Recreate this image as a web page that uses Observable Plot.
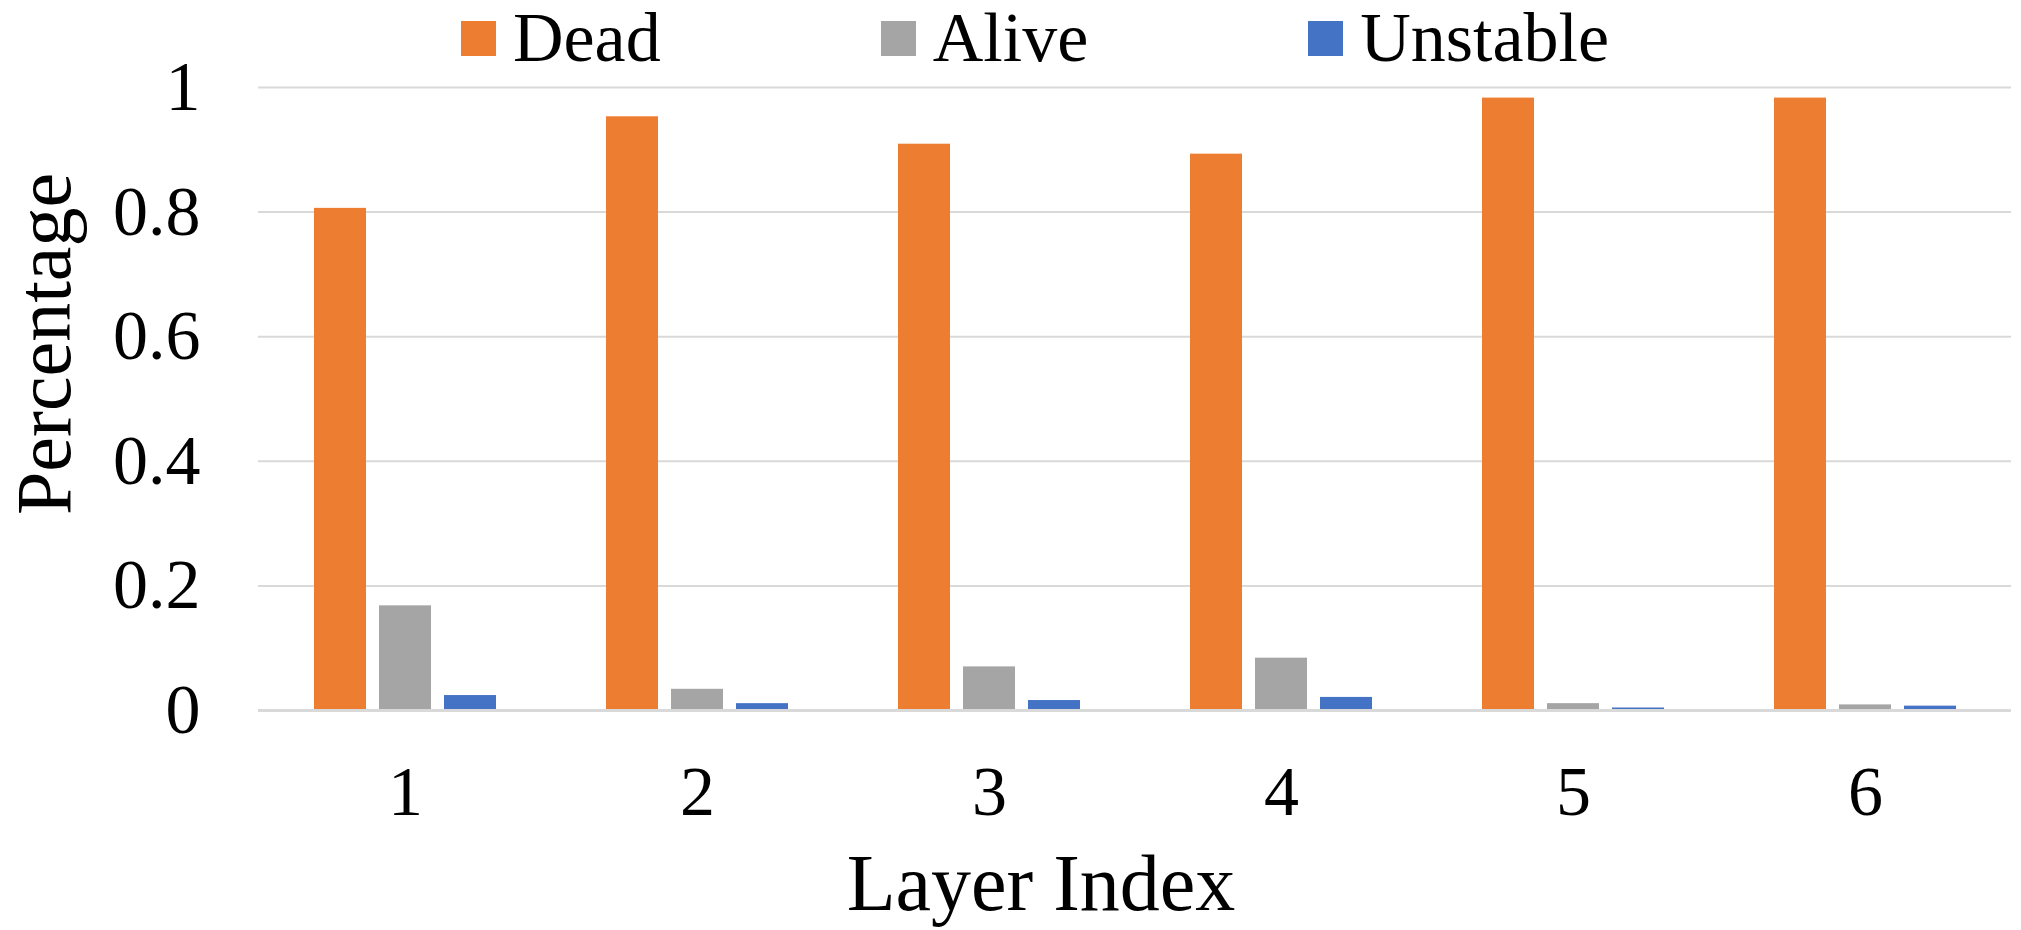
<!DOCTYPE html>
<html>
<head>
<meta charset="utf-8">
<script src="https://cdn.jsdelivr.net/npm/d3@7"></script>
<script src="https://cdn.jsdelivr.net/npm/@observablehq/plot@0.6"></script>
<style>
  html, body { margin: 0; padding: 0; background: #fff; }
  #wrap { position: relative; width: 2021px; height: 930px; font-family: "Liberation Serif", "Times New Roman", serif; }
  #legend { position: absolute; top: 0; left: 461px; height: 76px; display: flex; align-items: center; font-size: 70px; line-height: 1; color: #000; }
  .item { display: flex; align-items: center; margin-right: 220px; }
  .item:last-child { margin-right: 0; }
  .sw { width: 35px; height: 35px; margin-right: 17px; }
</style>
</head>
<body>
<div id="wrap">
  <div id="chart"></div>
  <div id="legend"></div>
</div>
<script>
const layers = ["1", "2", "3", "4", "5", "6"];
const series = ["Dead", "Alive", "Unstable"];
const colors = ["#ED7D31", "#A5A5A5", "#4472C4"];
const dead = [0.806, 0.953, 0.909, 0.893, 0.983, 0.983];
const alive = [0.168, 0.034, 0.070, 0.084, 0.011, 0.009];
const unstable = [0.024, 0.011, 0.016, 0.021, 0.004, 0.007];
const yTicks = [0, 0.2, 0.4, 0.6, 0.8, 1];
const xTitle = "Layer Index";
const yTitle = "Percentage";

const valuesBySeries = [dead, alive, unstable];
const rows = series.map((s, si) => layers.map((l, i) => ({layer: l, series: s, value: valuesBySeries[si][i]})));

const offsets = [-65, 0, 65];
const barMarks = rows.map((data, si) => Plot.barY(data, {
  x: "layer", y: "value", fill: colors[si],
  dx: offsets[si], insetLeft: 120, insetRight: 120
}));

const chart = Plot.plot({
  width: 2021,
  height: 930,
  marginLeft: 258,
  marginRight: 10,
  marginTop: 87,
  marginBottom: 220,
  style: {fontFamily: '"Liberation Serif", "Times New Roman", serif', color: "#000", background: "#fff"},
  x: {type: "band", domain: layers, padding: 0},
  y: {domain: [0, 1]},
  marks: [
    Plot.gridY({ticks: yTicks, stroke: "#d9d9d9", strokeOpacity: 1, strokeWidth: 2}),
    ...barMarks,
    Plot.ruleY([0], {stroke: "#d9d9d9", strokeWidth: 3}),
    Plot.axisY({ticks: yTicks, tickSize: 0, tickPadding: 58, fontSize: 70, label: null, tickFormat: d => String(d)}),
    Plot.axisX({tickSize: 0, tickPadding: 55, fontSize: 70, label: null}),
    Plot.text([xTitle], {text: d => d, frameAnchor: "bottom", dx: -94, dy: 174, fontSize: 80, lineAnchor: "middle", textAnchor: "middle"}),
    Plot.text([yTitle], {text: d => d, frameAnchor: "left", rotate: -90, dx: -213, dy: -55, fontSize: 78, lineAnchor: "middle", textAnchor: "middle"})
  ]
});
document.getElementById("chart").appendChild(chart);

const legend = document.getElementById("legend");
series.forEach((s, i) => {
  const item = document.createElement("div");
  item.className = "item";
  const sw = document.createElement("div");
  sw.className = "sw";
  sw.style.background = colors[i];
  const t = document.createElement("span");
  t.textContent = s;
  item.appendChild(sw);
  item.appendChild(t);
  legend.appendChild(item);
});
</script>
</body>
</html>
